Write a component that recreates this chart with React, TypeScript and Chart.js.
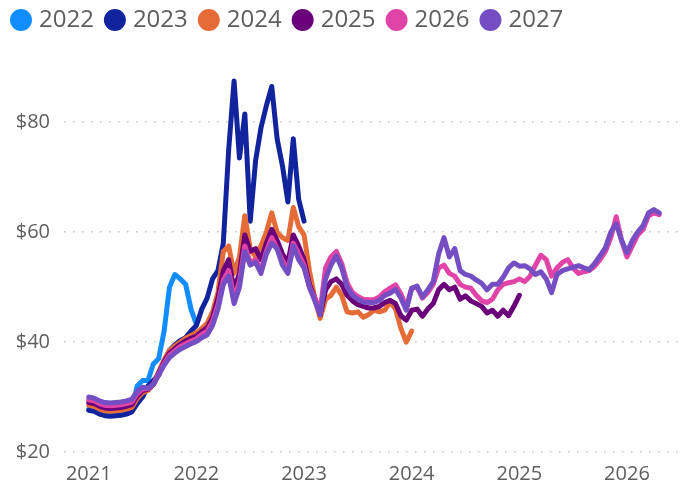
import React, { useEffect, useRef } from 'react';
import { Chart, registerables } from 'chart.js';

Chart.register(...registerables);

// ---- data ----
const seriesNames = ['2022', '2023', '2024', '2025', '2026', '2027'];
const seriesColors = ['#118DFF', '#12239E', '#E66C37', '#6B007B', '#E044A7', '#744EC2'];
const xTickYears = [2021, 2022, 2023, 2024, 2025, 2026];
const yTickValues = [20, 40, 60, 80];

// trade dates: every 0.05 year starting 2021.0
const START_YEAR = 2021;
const STEP_YEARS = 0.05;

const cal2022 = [
  27.8, 27.6, 27.1, 26.8, 26.8, 26.9, 27.0, 27.3, 27.8, 32.0,
  33.0, 33.0, 36.0, 37.0, 42.0, 50.0, 52.3, 51.5, 50.5, 46.0,
  43.2,
];

const cal2023 = [
  27.6, 27.4, 26.9, 26.6, 26.5, 26.6, 26.7, 26.9, 27.3, 28.8,
  30.0, 32.0, 33.0, 34.0, 36.5, 38.5, 39.5, 40.3, 40.8, 42.0,
  43.0, 46.0, 48.0, 51.5, 53.0, 58.0, 75.0, 87.5, 73.5, 81.5,
  62.0, 73.0, 79.0, 83.0, 86.5, 77.0, 72.0, 65.5, 77.0, 66.0,
  62.0,
];

const cal2024 = [
  28.5, 28.3, 27.8, 27.5, 27.4, 27.5, 27.6, 27.8, 28.1, 29.7,
  30.8, 31.2, 32.3, 34.6, 36.8, 38.5, 39.3, 40.0, 40.7, 41.2,
  41.7, 42.5, 43.4, 45.5, 49.0, 56.5, 57.5, 52.5, 55.5, 63.0,
  57.0, 55.5, 57.5, 60.0, 63.5, 60.0, 59.0, 58.5, 64.5, 61.0,
  59.5, 53.0, 48.0, 44.3, 47.8, 48.5, 50.0, 48.5, 45.5, 45.3,
  45.5, 44.5, 45.0, 45.8, 45.5, 45.8, 47.3, 46.0, 42.5, 40.0,
  42.0,
];

const cal2025 = [
  29.0, 28.8, 28.3, 28.0, 27.9, 28.0, 28.1, 28.3, 28.6, 30.2,
  31.2, 31.4, 32.3, 34.4, 36.4, 38.0, 38.8, 39.6, 40.2, 40.7,
  41.1, 41.9, 42.6, 44.5, 48.0, 53.0, 55.0, 49.5, 52.5, 59.5,
  56.5, 57.0, 55.0, 58.0, 60.5, 58.5, 56.0, 54.5, 59.5, 57.5,
  55.0, 50.5, 48.0, 45.0, 49.5, 51.0, 51.5, 50.5, 48.5, 47.5,
  46.8, 46.5, 46.2, 46.2, 46.5, 47.2, 47.6, 47.0, 44.8, 44.0,
  45.8, 46.0, 44.7, 46.0, 47.0, 49.5, 50.5, 49.5, 50.0, 47.8,
  48.4, 47.5, 47.0, 46.5, 45.3, 45.8, 44.7, 45.8, 44.8, 46.5,
  48.5,
];

const cal2026 = [
  29.5, 29.3, 28.8, 28.5, 28.4, 28.5, 28.6, 28.8, 29.1, 30.6,
  31.5, 31.5, 32.3, 34.2, 36.1, 37.6, 38.4, 39.2, 39.7, 40.2,
  40.6, 41.4, 42.0, 43.7, 46.8, 51.3, 53.0, 48.0, 51.0, 57.5,
  54.5, 55.0, 53.0, 56.5, 59.0, 57.0, 54.8, 53.0, 58.0, 56.0,
  54.0, 50.0, 48.0, 45.8, 53.5, 55.5, 56.5, 54.3, 50.8, 49.0,
  48.3, 47.8, 47.7, 47.7, 48.2, 49.2, 49.8, 50.4, 48.8, 46.3,
  49.8, 50.0, 48.0, 49.0, 50.5, 53.5, 54.0, 52.5, 52.0, 50.5,
  50.0, 49.8, 48.5, 47.5, 47.2, 47.8, 49.5, 50.5, 50.8, 51.0,
  51.5, 51.0, 52.0, 54.0, 55.8, 55.0, 52.0, 53.5, 54.5, 55.0,
  53.5, 52.5, 52.8, 53.0, 53.8, 55.0, 56.5, 59.0, 62.8, 58.5,
  55.5, 57.5, 59.5, 60.5, 63.0, 63.5, 63.2,
];

const cal2027 = [
  30.0, 29.8, 29.3, 29.0, 28.9, 29.0, 29.1, 29.3, 29.6, 31.0,
  31.8, 31.6, 32.3, 34.0, 35.8, 37.2, 38.0, 38.7, 39.2, 39.7,
  40.1, 40.8, 41.3, 43.0, 46.0, 50.5, 52.0, 47.0, 50.0, 56.5,
  54.0, 54.5, 52.5, 56.0, 58.0, 57.0, 54.0, 52.5, 57.5, 55.0,
  53.5, 50.0, 47.5, 45.0, 51.5, 54.0, 55.7, 53.5, 50.0, 48.5,
  47.8, 47.3, 47.2, 47.2, 47.6, 48.5, 48.9, 49.6, 48.0, 45.8,
  49.8, 50.2, 48.2, 49.5, 51.0, 56.0, 59.0, 55.5, 57.0, 53.0,
  52.3, 52.0, 51.3, 50.7, 49.5, 50.5, 50.5, 51.8, 53.5, 54.4,
  53.8, 53.9, 53.3, 52.3, 52.8, 51.5, 49.0, 52.3, 53.0, 53.3,
  53.6, 53.9, 53.5, 53.2, 54.3, 55.7, 57.2, 60.0, 61.5, 58.5,
  56.3, 58.5, 60.0, 61.2, 63.5, 64.1, 63.5,
];

const seriesValues = [cal2022, cal2023, cal2024, cal2025, cal2026, cal2027];

const dates = Array.from({ length: cal2027.length }, (_, i) =>
  Math.round((START_YEAR + i * STEP_YEARS) * 1000) / 1000
);

const FONT = "'Segoe UI', 'Open Sans', sans-serif";
const TEXT_COLOR = '#605E5C';

export default function App() {
  const canvasRef = useRef<HTMLCanvasElement | null>(null);

  useEffect(() => {
    if (!canvasRef.current) return;
    const n = seriesNames.length;
    const datasets = seriesNames.map((name, k) => ({
      label: name,
      data: seriesValues[k].map((v, i) => ({ x: dates[i], y: v })),
      borderColor: seriesColors[k],
      backgroundColor: seriesColors[k],
      borderWidth: 5,
      pointRadius: 0,
      pointHoverRadius: 0,
      tension: 0,
      borderJoinStyle: 'round' as const,
      borderCapStyle: 'round' as const,
      order: n - 1 - k,
    }));

    const chart = new Chart(canvasRef.current, {
      type: 'line',
      data: { datasets },
      options: {
        responsive: true,
        maintainAspectRatio: false,
        animation: false,
        layout: { padding: { top: -7, left: 0, right: 6, bottom: -4 } },
        plugins: {
          legend: {
            position: 'top',
            align: 'start',
            labels: {
              usePointStyle: true,
              pointStyle: 'circle',
              boxWidth: 12,
              boxHeight: 12,
              padding: 15,
              color: TEXT_COLOR,
              font: { family: FONT, size: 24 },
              sort: (a: any, b: any) => a.datasetIndex - b.datasetIndex,
            },
          },
          tooltip: { enabled: false },
        },
        scales: {
          x: {
            type: 'linear',
            min: 2020.77,
            max: 2026.53,
            grid: { display: false },
            border: { display: false },
            afterBuildTicks: (scale: any) => {
              scale.ticks = xTickYears.map((v) => ({ value: v }));
            },
            ticks: {
              padding: 2,
              color: TEXT_COLOR,
              font: { family: FONT, size: 20 },
              maxRotation: 0,
              autoSkip: false,
              callback: (v: any) => String(v),
            },
          },
          y: {
            min: 20,
            max: 94.6,
            afterFit: (scale: any) => {
              scale.width = 64;
            },
            afterBuildTicks: (scale: any) => {
              scale.ticks = yTickValues.map((v) => ({ value: v }));
            },
            grid: { color: '#C8C6C4', lineWidth: 1.5, drawTicks: false },
            border: { display: false, dash: [1.5, 7.5] },
            ticks: {
              padding: 14,
              color: TEXT_COLOR,
              font: { family: FONT, size: 20 },
              callback: (v: any) => '$' + v,
            },
          },
        },
      },
    });
    return () => chart.destroy();
  }, []);

  return (
    <div style={{ position: 'absolute', left: 0, top: 0, width: 690, height: 484, background: '#fff' }}>
      <canvas ref={canvasRef} />
    </div>
  );
}
